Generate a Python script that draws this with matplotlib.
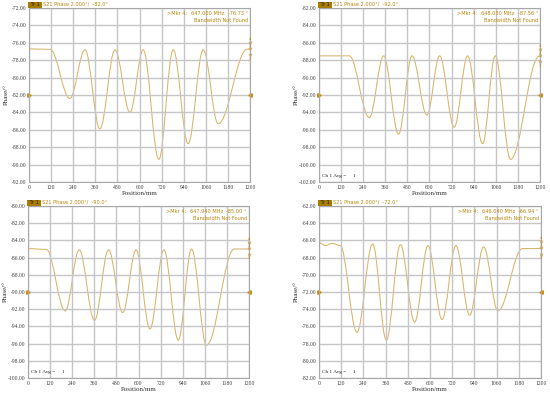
import matplotlib
matplotlib.use("Agg")
import matplotlib.pyplot as plt
from matplotlib.path import Path
from matplotlib.patches import PathPatch

# x tick positions and the labels printed under them (as in the original)
x_ticks = [0, 120, 240, 360, 480, 600, 720, 840, 960, 1080, 1200]
x_labels = ["0", "120", "240", "360", "480", "600", "720", "940", "1060", "1180", "1200"]

# turning points (position/mm, phase/deg)
tl_pos = [0, 115, 222, 304, 385, 467, 548, 620, 705, 783, 864, 946, 1027, 1185, 1200]
tl_val = [-76.70, -76.75, -82.40, -76.80, -85.90, -76.80, -84.00, -76.80, -89.40,
          -76.80, -87.60, -76.80, -85.30, -76.73, -76.73]

tr_pos = [0, 165, 273, 351, 432, 505, 586, 655, 734, 807, 888, 957, 1040, 1195, 1200]
tr_val = [-87.50, -87.50, -94.60, -87.50, -96.50, -87.50, -94.30, -87.50, -95.70,
          -87.50, -97.60, -87.50, -99.40, -87.56, -87.56]

bl_pos = [0, 100, 202, 278, 361, 437, 514, 587, 662, 738, 816, 888, 969, 1120, 1200]
bl_val = [-84.95, -85.05, -92.20, -85.10, -93.30, -85.10, -92.40, -85.10, -94.30,
          -85.10, -95.60, -85.00, -96.20, -85.00, -85.00]

br_pos = [0, 35, 70, 115, 205, 290, 364, 440, 517, 589, 665, 740, 814, 890, 967, 1100, 1200]
br_val = [-66.25, -66.60, -66.35, -66.60, -76.70, -66.40, -77.60, -66.50, -75.50,
          -66.60, -75.20, -66.60, -74.70, -66.75, -74.20, -66.95, -66.94]

# y window bottom, reference level, header and marker readout per panel
y_bottom = [-92, -102, -100, -82]
ref_level = [-82, -92, -90, -72]
mkr_freq = ["647.000 MHz", "648.030 MHz", "647.940 MHz", "646.040 MHz"]
mkr_val = ["-76.73 °", "-87.56 °", "-85.00 °", "-66.94 °"]

TRACE = "#d8b466"
GOLD = "#b8860b"
GRID = "#c6c6c6"


def smooth_path(xs, ys, k=0.364):
    # cubic Bezier segments with flat tangents at every turning point
    verts = [(xs[0], ys[0])]
    codes = [Path.MOVETO]
    for i in range(len(xs) - 1):
        dx = xs[i + 1] - xs[i]
        verts += [(xs[i] + k * dx, ys[i]), (xs[i + 1] - k * dx, ys[i + 1]), (xs[i + 1], ys[i + 1])]
        codes += [Path.CURVE4] * 3
    return Path(verts, codes)


fig = plt.figure(figsize=(5.5, 3.94), dpi=100)
boxes = [
    [29 / 550, 1 - 182 / 394, 221 / 550, 174 / 394],
    [319 / 550, 1 - 182 / 394, 221 / 550, 174 / 394],
    [28 / 550, 1 - 378 / 394, 221 / 550, 172 / 394],
    [319 / 550, 1 - 378 / 394, 222 / 550, 172 / 394],
]
traces = [(tl_pos, tl_val), (tr_pos, tr_val), (bl_pos, bl_val), (br_pos, br_val)]

for n, (box, (xs, ys)) in enumerate(zip(boxes, traces)):
    ax = fig.add_axes(box)
    lo = y_bottom[n]
    ax.set_xlim(0, 1200)
    ax.set_ylim(lo, lo + 20)
    ax.set_xticks(x_ticks)
    ax.set_xticklabels(x_labels)
    ax.set_yticks([lo + 2 * i for i in range(11)])
    ax.set_yticklabels(["%.2f" % (lo + 2 * i) for i in range(11)])
    ax.tick_params(length=0, labelsize=4.1, pad=2, colors="#404040")
    for lab in ax.get_xticklabels() + ax.get_yticklabels():
        lab.set_family("Liberation Serif")
    ax.grid(True, color=GRID, lw=1.0)
    for s in ax.spines.values():
        s.set_color("#a8a8a8")
        s.set_linewidth(0.8)
    ax.set_xlabel("Position/mm", fontsize=5, family="Liberation Serif", labelpad=1, color="#303030")
    ax.set_ylabel("Phase/°", fontsize=5, family="Liberation Serif", color="#303030")
    ax.yaxis.set_label_coords(-0.092, 0.5)

    ax.add_patch(PathPatch(smooth_path(xs, ys), facecolor="none", edgecolor=TRACE, lw=0.75))

    # reference level arrows on both sides
    ax.plot([0], [ref_level[n]], marker=">", ms=2.5, color="#d08a00", clip_on=False)
    ax.plot([1200], [ref_level[n]], marker="<", ms=2.5, color="#d08a00", clip_on=False)

    # marker cluster at the trace end
    yend = ys[-1]
    ax.plot([1200, 1200, 1200], [yend + 0.7, yend, yend - 0.7], ls="none", marker="v",
            ms=2.2, mfc="none", mec="#d8a040", mew=0.5, clip_on=False)
    for dy, t in [(1.2, "4"), (0.35, "2"), (-1.1, "3")]:
        ax.text(1200, yend + dy, t, fontsize=2.8, color=GOLD, ha="center", va="center", clip_on=False)

    # header strip
    ax.text(0.0, 1.004, " Tr 1 ", transform=ax.transAxes, fontsize=3.6, color="#2a1e00",
            va="bottom", ha="left",
            bbox=dict(boxstyle="square,pad=0.15", fc="#a67c00", ec="none"))
    ax.text(0.065, 1.008, "S21 Phase 2.000°/  %.1f°" % ref_level[n], transform=ax.transAxes,
            fontsize=3.6, color=GOLD, va="bottom", ha="left")
    ax.text(0.625, 0.985, ">Mkr 4:", transform=ax.transAxes, fontsize=3.6, color=GOLD, va="top")
    ax.text(0.735, 0.985, mkr_freq[n], transform=ax.transAxes, fontsize=3.6, color=GOLD, va="top")
    ax.text(0.99, 0.985, mkr_val[n], transform=ax.transAxes, fontsize=3.6, color=GOLD, va="top", ha="right")
    ax.text(0.99, 0.94, "Bandwidth Not Found", transform=ax.transAxes, fontsize=3.6, color=GOLD,
            va="top", ha="right")
    if n > 0:
        ax.text(0.015, 0.025, "Ch 1 Avg =     1", transform=ax.transAxes, fontsize=3.8,
                color="#202020", va="bottom", family="Liberation Serif")

fig.savefig("out.png", dpi=100)
